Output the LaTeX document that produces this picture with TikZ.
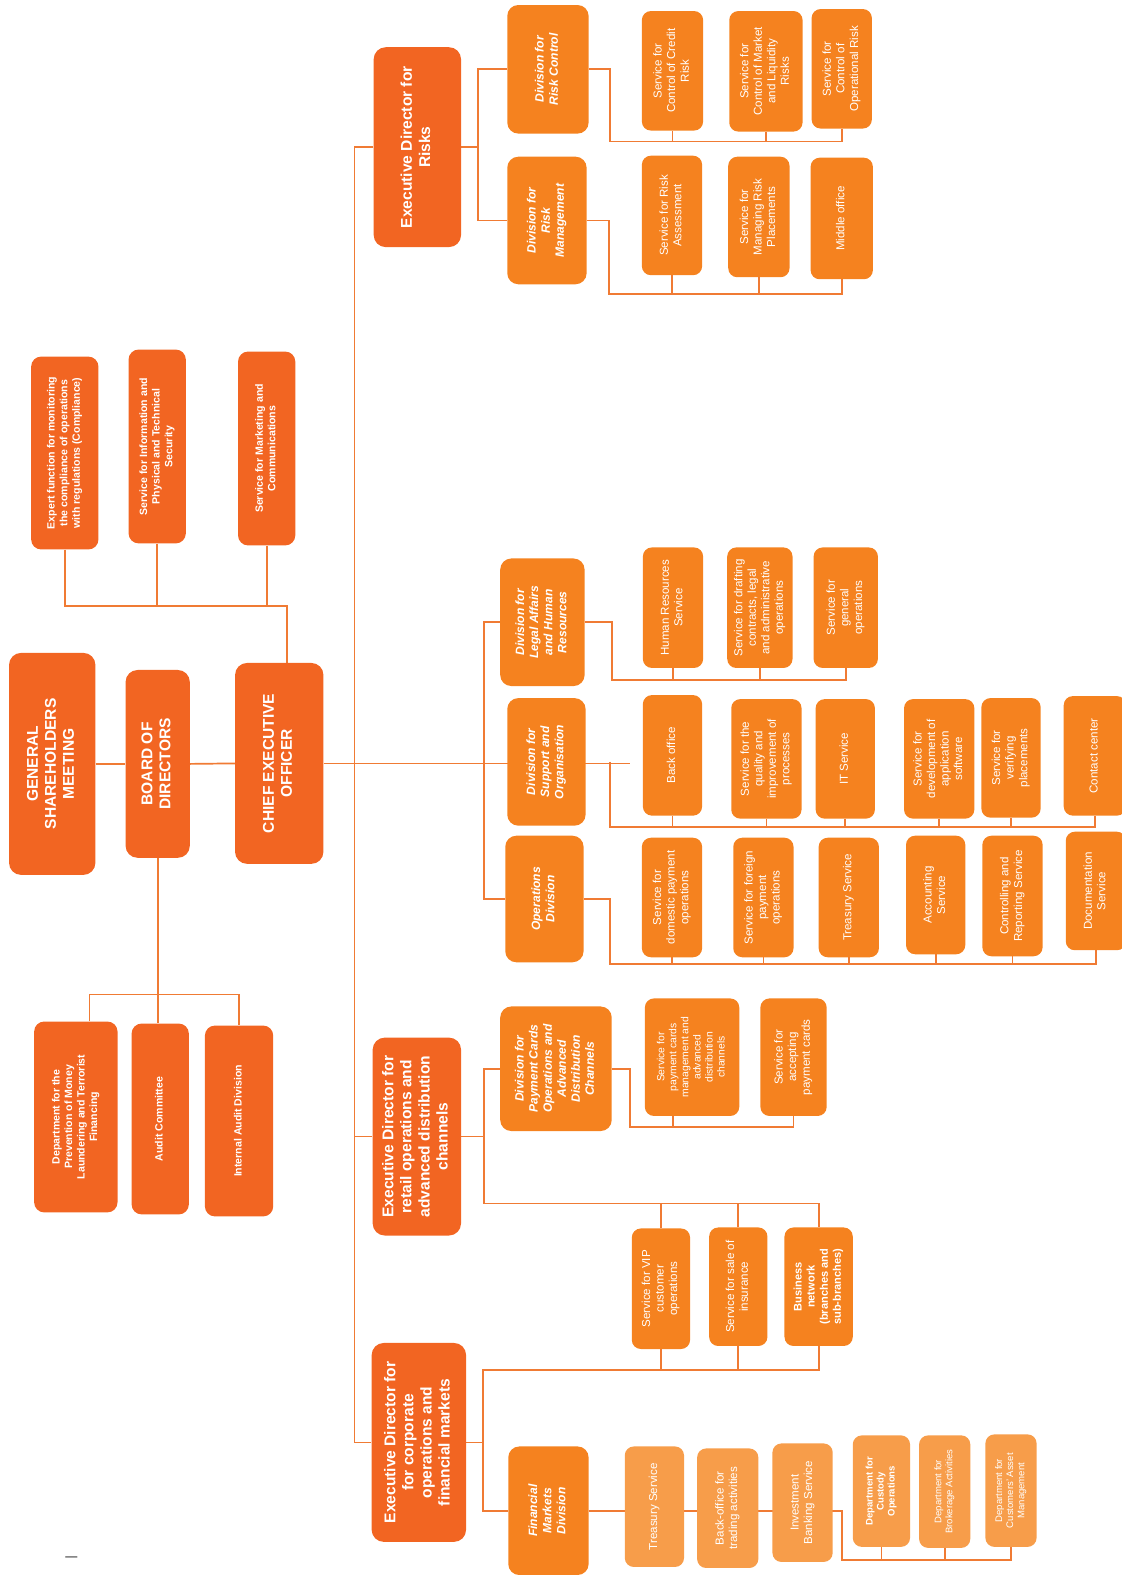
\documentclass[tikz,border=0pt]{standalone}
\usepackage{fontspec}
\setmainfont{Liberation Sans}
\usepackage{graphicx}
\usepackage{xcolor}
\usepackage{tikz}
\usetikzlibrary{positioning,calc}
\usetikzlibrary{backgrounds}
\definecolor{darkor}{HTML}{F26522}
\definecolor{midor}{HTML}{F5821F}
\definecolor{lightor}{HTML}{F79D4A}
\definecolor{lineor}{HTML}{F07B34}
\newcommand{\vlab}[1]{\rotatebox{90}{\begin{tabular}{@{}c@{}}#1\end{tabular}}}
\tikzset{
	sz/.style 2 args={minimum width=#1pt,minimum height=#2pt},
	topbox/.style={rectangle,fill=darkor,rounded corners=12pt,inner sep=0pt,text=white,font=\fontsize{15.5}{18}\selectfont\bfseries},
	edbox/.style={rectangle,fill=darkor,rounded corners=12pt,inner sep=0pt,text=white,font=\fontsize{15.5}{18}\selectfont\bfseries},
	sidebox/.style={rectangle,fill=darkor,rounded corners=10pt,inner sep=0pt,text=white,font=\fontsize{10.5}{12.5}\selectfont\bfseries},
	divbox/.style={rectangle,fill=midor,rounded corners=11pt,inner sep=0pt,text=white,font=\fontsize{12}{14}\selectfont\bfseries\itshape},
	svcbox/.style={rectangle,fill=midor,rounded corners=9pt,inner sep=0pt,text=white,font=\fontsize{11.5}{13.5}\selectfont},
	fmsvc/.style={svcbox,fill=lightor},
	deptbox/.style={fmsvc,font=\fontsize{9.5}{11}\selectfont},
	conn/.style={draw=lineor,line width=1.7pt},
}

\begin{document}
\begin{tikzpicture}[x=1pt,y=-1pt]
	\useasboundingbox (0,0) rectangle (1117,1568);
	
	% Governance
	\node[topbox,sz={86}{221}] (gsm) at (52,760.5) {\vlab{GENERAL\\SHAREHOLDERS\\MEETING}};
	\node[topbox,sz={64}{187}] (bod) at (157,760.5) {\vlab{BOARD OF\\DIRECTORS}};
	\node[topbox,sz={88}{200}] (ceo) at (278,760) {\vlab{CHIEF EXECUTIVE\\OFFICER}};
	
	% Staff functions of the CEO
	\node[sidebox,sz={67}{192}] (compl) at (64.5,451) {\vlab{Expert function for monitoring\\the compliance of operations\\with regulations (Compliance)}};
	\node[sidebox,sz={57}{193}] (infosec) at (156.5,444.5) {\vlab{Service for Information and\\Physical and Technical\\Security}};
	\node[sidebox,sz={57}{193}] (mkt) at (265.5,446.5) {\vlab{Service for Marketing and\\Communications}};
	
	% Bodies of the Board
	\node[sidebox,sz={83}{190}] (pml) at (75.5,1112) {\vlab{Department for the\\Prevention of Money\\Laundering and Terrorist\\Financing}};
	\node[sidebox,sz={57}{190}] (audit) at (159.5,1114) {\vlab{Audit Committee}};
	\node[sidebox,sz={68}{190}] (intaudit) at (238,1116) {\vlab{Internal Audit Division}};
	
	% Executive directors
	\node[edbox,sz={87}{199}] (edrisk) at (415.5,146.5) {\vlab{Executive Director for\\Risks}};
	\node[edbox,sz={88}{197}] (edretail) at (415,1131.5) {\vlab{Executive Director for\\retail operations and\\advanced distribution\\channels}};
	\node[edbox,sz={94}{198}] (edcorp) at (417,1436) {\vlab{Executive Director for\\for corporate\\operations and\\financial markets}};
	
	% Risks
	\node[divbox,sz={81}{128}] (rc) at (545.5,69) {\vlab{Division for\\Risk Control}};
	\node[divbox,sz={79}{127}] (rm) at (544.5,219.5) {\vlab{Division for\\Risk\\Management}};
	\node[svcbox,sz={61}{119}] (credit) at (669.5,70.5) {\vlab{Service for\\Control of Credit\\Risk}};
	\node[svcbox,sz={73}{120}] (mktliq) at (762.5,71) {\vlab{Service for\\Control of Market\\and Liquidity\\Risks}};
	\node[svcbox,sz={60}{119}] (oprisk) at (838,68.5) {\vlab{Service for\\Control of\\Operational Risk}};
	\node[svcbox,sz={60}{119}] (riskass) at (669,214.5) {\vlab{Service for Risk\\Assessment}};
	\node[svcbox,sz={61}{120}] (riskplace) at (755.5,216) {\vlab{Service for\\Managing Risk\\Placements}};
	\node[svcbox,sz={62}{121}] (midoff) at (838,217.5) {\vlab{Middle office}};
	
	% Divisions under the CEO
	\node[divbox,sz={84}{127}] (legal) at (540,619.5) {\vlab{Division for\\Legal Affairs\\and Human\\Resources}};
	\node[divbox,sz={78}{127}] (supp) at (544,758.5) {\vlab{Division for\\Support and\\Organisation}};
	\node[divbox,sz={78}{126}] (opsdiv) at (542,895) {\vlab{Operations\\Division}};
	
	\node[svcbox,sz={60}{120}] (hr) at (670,605) {\vlab{Human Resources\\Service}};
	\node[svcbox,sz={65}{120}] (draft) at (756.5,605) {\vlab{Service for drafting\\contracts, legal\\and administrative\\operations}};
	\node[svcbox,sz={64}{120}] (genops) at (842,605) {\vlab{Service for\\general\\operations}};
	
	\node[svcbox,sz={59}{120}] (backoff) at (669.5,752) {\vlab{Back office}};
	\node[svcbox,sz={70}{119}] (quality) at (763,755.5) {\vlab{Service for the\\quality and\\improvement of\\processes}};
	\node[svcbox,sz={59}{119}] (itsvc) at (841.5,755.5) {\vlab{IT Service}};
	\node[svcbox,sz={70}{119}] (devsw) at (935,755.5) {\vlab{Service for\\development of\\application\\software}};
	\node[svcbox,sz={59}{119}] (verify) at (1006.5,754.5) {\vlab{Service for\\verifying\\placements}};
	\node[svcbox,sz={62}{119}] (contact) at (1090,752.5) {\vlab{Contact center}};
	
	\node[svcbox,sz={60}{119}] (dompay) at (669,893.5) {\vlab{Service for\\domestic payment\\operations}};
	\node[svcbox,sz={60}{119}] (forpay) at (760,893.5) {\vlab{Service for foreign\\payment\\operations}};
	\node[svcbox,sz={60}{119}] (treas) at (845,893.5) {\vlab{Treasury Service}};
	\node[svcbox,sz={59}{118}] (acct) at (931.5,891) {\vlab{Accounting\\Service}};
	\node[svcbox,sz={60}{120}] (ctrl) at (1008,892) {\vlab{Controlling and\\Reporting Service}};
	\node[svcbox,sz={60}{118}] (docs) at (1091,887) {\vlab{Documentation\\Service}};
	
	% Retail
	\node[divbox,sz={111}{124}] (paydiv) at (553.5,1064) {\vlab{Division for\\Payment Cards\\Operations and\\Advanced\\Distribution\\Channels}};
	\node[svcbox,sz={94}{117},font=\fontsize{10.3}{12}\selectfont] (paymgmt) at (689,1052.5) {\vlab{Service for\\payment cards\\management and\\advanced\\distribution\\channels}};
	\node[svcbox,sz={66}{117}] (accept) at (790,1052.5) {\vlab{Service for\\accepting\\payment cards}};
	\node[svcbox,sz={58}{120}] (vip) at (658,1283) {\vlab{Service for VIP\\customer\\operations}};
	\node[svcbox,sz={58}{118}] (insur) at (735,1281) {\vlab{Service for sale of\\insurance}};
	\node[svcbox,sz={68}{118},font=\fontsize{11}{13}\selectfont\bfseries] (busnet) at (815,1281) {\vlab{Business\\network\\(branches and\\sub-branches)}};
	
	% Financial markets
	\node[divbox,sz={80}{128}] (fmdiv) at (546,1504) {\vlab{Financial\\Markets\\Division}};
	\node[fmsvc,sz={59}{120}] (fmtreas) at (651.5,1500) {\vlab{Treasury Service}};
	\node[fmsvc,sz={61}{119}] (fmback) at (724.5,1501.5) {\vlab{Back-office for\\trading activities}};
	\node[fmsvc,sz={60}{118}] (invbank) at (799,1496) {\vlab{Investment\\Banking Service}};
	\node[deptbox,sz={57}{111},font=\fontsize{9.5}{11}\selectfont\bfseries] (custody) at (877.5,1484.5) {\vlab{Department for\\Custody\\Operations}};
	\node[deptbox,sz={51}{112}] (broker) at (940.5,1485) {\vlab{Department for\\Brokerage Activities}};
	\node[deptbox,sz={51}{112}] (assetm) at (1006.5,1484) {\vlab{Department for\\Customers' Asset\\Management}};
	
	\node[font=\fontsize{12}{12}\selectfont] (dash) at (71,1552) {---};
	
	% Junctions
	\coordinate (topj) at (286,603);
	\coordinate (botj) at (89,990);
	\coordinate (spine) at (353,760);
	\coordinate (supend) at (627,760);
	\coordinate (rb) at (476,147);
	\coordinate (rcj) at (607,141);
	\coordinate (rmj) at (606,293);
	\coordinate (db) at (482,760);
	\coordinate (lj) at (609,677);
	\coordinate (sj) at (607,823);
	\coordinate (oj) at (607,960);
	\coordinate (rt) at (482,1198);
	\coordinate (pj) at (627,1122);
	\coordinate (pmj) at (670,1122);
	\coordinate (ct) at (481,1364);
	\coordinate (fj) at (838,1553);
	
	% Draw connections
	\begin{scope}[on background layer]
		\draw[conn] (compl.south) |- (topj) -- (topj |- ceo.north);
		\draw[conn] (infosec.south) -- (infosec.south |- topj);
		\draw[conn] (mkt.south) -- (mkt.south |- topj);
		\draw[conn] (gsm.east) -- (bod.west);
		\draw[conn] (bod.east) -- (ceo.west);
		\draw[conn] (ceo.east) -- (supend);
		\draw[conn] (bod.south) -- (bod.south |- audit.north);
		\draw[conn] (botj |- pml.north) -- (botj) -| (intaudit.north);
		
		\draw[conn] (edrisk.west) -| (spine |- edcorp.west) -- (edcorp.west);
		\draw[conn] (edretail.west) -- (edretail.west -| spine);
		
		\draw[conn] (edrisk.east) -- (edrisk.east -| rb);
		\draw[conn] (rc.west) -| (rb |- rm.west) -- (rm.west);
		\draw[conn] (rc.east) -| (rcj) -| (oprisk.south);
		\draw[conn] (credit.south) -- (credit.south |- rcj);
		\draw[conn] (mktliq.south) -- (mktliq.south |- rcj);
		\draw[conn] (rm.east) -| (rmj) -| (midoff.south);
		\draw[conn] (riskass.south) -- (riskass.south |- rmj);
		\draw[conn] (riskplace.south) -- (riskplace.south |- rmj);
		
		\draw[conn] (legal.west) -| (db |- opsdiv.west) -- (opsdiv.west);
		\draw[conn] (legal.east) -| (lj) -| (genops.south);
		\draw[conn] (hr.south) -- (hr.south |- lj);
		\draw[conn] (draft.south) -- (draft.south |- lj);
		\draw[conn] (sj |- supp.east) -- (sj) -| (contact.south);
		\foreach \n in {backoff,quality,itsvc,devsw,verify}
			\draw[conn] (\n.south) -- (\n.south |- sj);
		\draw[conn] (opsdiv.east) -| (oj) -| (docs.south);
		\foreach \n in {dompay,forpay,treas,acct,ctrl}
			\draw[conn] (\n.south) -- (\n.south |- oj);
		
		\draw[conn] (edretail.east) -- (edretail.east -| rt);
		\draw[conn] (paydiv.west) -| (rt) -| (busnet.north);
		\draw[conn] (vip.north) -- (vip.north |- rt);
		\draw[conn] (insur.north) -- (insur.north |- rt);
		\draw[conn] (paydiv.east) -| (pj) -| (accept.south);
		\draw[conn] (pmj) -- (pmj |- paymgmt.south);
		
		\draw[conn] (edcorp.east) -- (edcorp.east -| ct);
		\draw[conn] (fmdiv.west) -| (ct) -| (busnet.south);
		\draw[conn] (vip.south) -- (vip.south |- ct);
		\draw[conn] (insur.south) -- (insur.south |- ct);
		\draw[conn] (fmdiv.east) -- (fmdiv.east -| fj) -- (fj) -| (assetm.south);
		\draw[conn] (custody.south) -- (custody.south |- fj);
		\draw[conn] (broker.south) -- (broker.south |- fj);
	\end{scope}
	
\end{tikzpicture}
\end{document}
